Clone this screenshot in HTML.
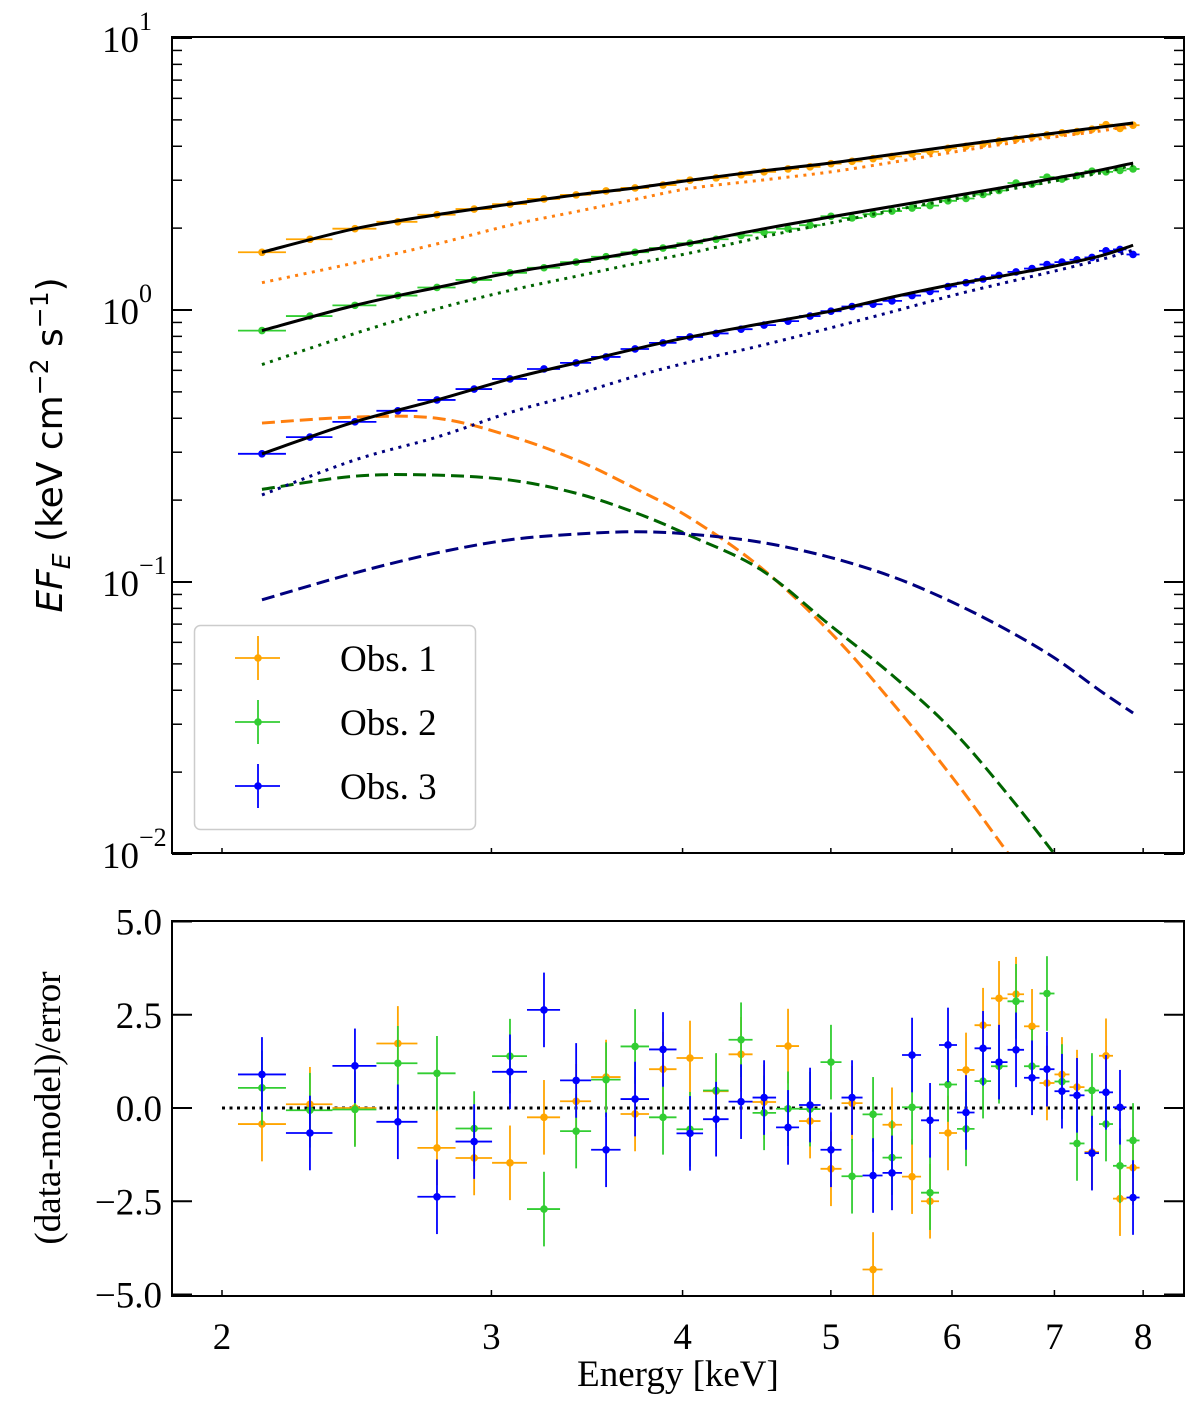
<!DOCTYPE html>
<html><head><meta charset="utf-8"><style>
body{margin:0;background:#fff;}
svg{display:block;}
.tk{font-family:"Liberation Serif",serif;font-size:37px;fill:#000;}
</style></head><body>
<svg id="chart" width="1200" height="1410" viewBox="0 0 1200 1410" xmlns="http://www.w3.org/2000/svg">
<defs>
<clipPath id="clipTop"><rect x="172" y="37" width="1012" height="816"/></clipPath>
<clipPath id="clipBot"><rect x="172" y="921" width="1012" height="375"/></clipPath>
</defs>
<g id="topPanel"></g>
<g id="botPanel"></g>
</svg>
<script>
// ---------- data ----------
const binEnergies=[2.124,2.283,2.443,2.606,2.764,2.923,3.085,3.247,3.408,3.565,3.724,3.884,4.045,4.207,4.368,4.522,4.688,4.846,5.001,5.162,5.328,5.482,5.650,5.805,5.964,6.128,6.287,6.440,6.607,6.768,6.922,7.080,7.242,7.407,7.565,7.726,7.879];
const flux1=[1.63,1.82,1.99,2.11,2.24,2.35,2.45,2.56,2.65,2.74,2.81,2.88,3.00,3.06,3.14,3.22,3.30,3.36,3.45,3.52,3.60,3.67,3.75,3.82,3.93,4.00,4.08,4.18,4.25,4.33,4.40,4.48,4.53,4.62,4.80,4.65,4.78];
const flux2=[0.84,0.95,1.04,1.13,1.21,1.29,1.37,1.43,1.50,1.57,1.63,1.69,1.76,1.82,1.88,1.93,1.99,2.05,2.21,2.18,2.25,2.31,2.37,2.42,2.52,2.57,2.66,2.75,2.93,2.90,3.08,3.03,3.12,3.24,3.22,3.26,3.30];
const flux3=[0.296,0.341,0.388,0.426,0.467,0.512,0.558,0.607,0.639,0.672,0.719,0.757,0.796,0.82,0.85,0.88,0.91,0.95,0.99,1.03,1.05,1.08,1.13,1.17,1.22,1.26,1.30,1.34,1.38,1.42,1.47,1.50,1.53,1.56,1.65,1.67,1.60];
const resid1=[-0.43,0.1,0.0,1.73,-1.07,-1.34,-1.47,-0.25,0.18,0.83,-0.16,1.04,1.34,0.45,1.44,0.16,1.66,-0.35,-1.63,0.13,-4.33,-0.45,-1.84,-2.5,-0.67,1.02,2.22,2.94,3.05,2.19,0.67,0.9,0.56,-1.18,1.4,-2.43,-1.6];
const resid2=[0.54,-0.06,-0.04,1.2,0.93,-0.55,1.39,-2.71,-0.62,0.76,1.65,-0.25,-0.57,0.47,1.83,-0.13,-0.02,-0.03,1.23,-1.83,-0.17,-1.33,0.02,-2.27,0.63,-0.56,0.72,1.12,2.86,1.12,3.07,0.71,-0.95,0.47,-0.43,-1.55,-0.87];
const resid3=[0.9,-0.67,1.13,-0.37,-2.38,-0.9,0.97,2.63,0.74,-1.12,0.24,1.57,-0.68,-0.3,0.17,0.28,-0.52,0.08,-1.12,0.28,-1.81,-1.74,1.42,-0.33,1.69,-0.12,1.6,1.23,1.56,0.81,1.04,0.45,0.34,-1.21,0.42,0.02,-2.4];
const modelEnergies=[2.124,2.443,2.764,3.085,3.408,3.724,4.045,4.5,5.0,5.5,6.0,6.5,7.0,7.5,7.88];
const total1=[1.63,1.99,2.24,2.45,2.65,2.81,3.00,3.24,3.47,3.74,4.00,4.25,4.47,4.70,4.87];
const total2=[0.84,1.04,1.21,1.37,1.50,1.63,1.76,1.98,2.20,2.41,2.62,2.83,3.05,3.27,3.47];
const total3=[0.296,0.388,0.467,0.558,0.639,0.719,0.796,0.89,0.99,1.12,1.24,1.34,1.45,1.58,1.73];
const pl1=[1.26,1.49,1.75,2.05,2.30,2.55,2.80,3.00,3.22,3.50,3.80,4.08,4.33,4.55,4.78];
const pl2=[0.63,0.82,1.01,1.18,1.33,1.48,1.62,1.85,2.09,2.33,2.55,2.76,2.98,3.19,3.41];
const pl3=[0.209,0.281,0.341,0.42,0.49,0.57,0.644,0.74,0.86,0.99,1.13,1.26,1.39,1.53,1.66];
const bb1=[0.384,0.404,0.40,0.344,0.281,0.221,0.172,0.113,0.065,0.0353,0.0192,0.0104,0.0058,0.0034,0.0022];
const bb2=[0.219,0.245,0.247,0.237,0.212,0.180,0.148,0.111,0.069,0.0448,0.0286,0.017,0.010,0.006,0.0041];
const bb3=[0.086,0.108,0.128,0.143,0.150,0.153,0.150,0.140,0.123,0.104,0.0844,0.0672,0.0526,0.0398,0.033];
const xTicks=[2,3,4,5,6,7,8];
const xTickLabels=["2","3","4","5","6","7","8"];
const yResTicks=[-5,-2.5,0,2.5,5];
const yResLabels=["\u22125.0","\u22122.5","0.0","2.5","5.0"];
const yLogDecades=[-2,-1,0,1];
const obsNames=["Obs. 1","Obs. 2","Obs. 3"];

// ---------- scales ----------
const NS="http://www.w3.org/2000/svg";
const X0=222,XPD=1530;
function xs(e){return X0+XPD*Math.log10(e/2);}
function ys(v){return 310-272*Math.log10(v);}
function yr(v){return 1108-37.3*v;}
function mk(tag,attrs,parent){const el=document.createElementNS(NS,tag);for(const k in attrs)el.setAttribute(k,attrs[k]);parent.appendChild(el);return el;}
const topG=document.getElementById('topPanel'),botG=document.getElementById('botPanel');

function smooth(pts){let d=`M${pts[0][0]},${pts[0][1]}`;for(let i=0;i<pts.length-1;i++){const p0=pts[i-1]||pts[i],p1=pts[i],p2=pts[i+1],p3=pts[i+2]||p2;const c1=[p1[0]+(p2[0]-p0[0])/6,p1[1]+(p2[1]-p0[1])/6],c2=[p2[0]-(p3[0]-p1[0])/6,p2[1]-(p3[1]-p1[1])/6];d+=`C${c1[0]},${c1[1]} ${c2[0]},${c2[1]} ${p2[0]},${p2[1]}`;}return d;}
function halfW(i){const n=binEnergies.length;const e=binEnergies[i];
  const l=i>0?Math.sqrt(binEnergies[i-1]*e):e*e/Math.sqrt(e*binEnergies[i+1]);
  const r=i<n-1?Math.sqrt(binEnergies[i+1]*e):e*e/Math.sqrt(e*binEnergies[i-1]);return [l,r];}

const dataCols=["#FFA500","#32CD32","#0000FF"];
const modCols=["#FF7F0E","#006400","#00007F"];
const fluxes=[flux1,flux2,flux3],resids=[resid1,resid2,resid3];
const totals=[total1,total2,total3],pls=[pl1,pl2,pl3],bbs=[bb1,bb2,bb3];

// ---------- top panel ----------
const gTopPlot=mk('g',{'clip-path':'url(#clipTop)'},topG);


for(let s=0;s<3;s++){
  const g=mk('g',{},gTopPlot);
  
  
  fluxes[s].forEach((v,i)=>{const [l,r]=halfW(i);const x=xs(binEnergies[i]),y=ys(v);
    const h=mk('line',{x1:xs(l),x2:xs(r),y1:y,y2:y,stroke:dataCols[s],'stroke-width':1.8},g);
    
    
    const c=mk('circle',{cx:x,cy:y,r:3.8,fill:dataCols[s]},g);
    
    
  });
}
for(let s=0;s<3;s++){
  const pd=mk('path',{d:smooth(modelEnergies.map((e,i)=>[xs(e),ys(pls[s][i])])),fill:'none',stroke:modCols[s],'stroke-width':3,'stroke-dasharray':'3,5.5'},gTopPlot);
  
  
  const bd=mk('path',{d:smooth(modelEnergies.map((e,i)=>[xs(e),ys(bbs[s][i])])),fill:'none',stroke:modCols[s],'stroke-width':3,'stroke-dasharray':'13,6'},gTopPlot);
  
  
  const td=mk('path',{d:smooth(modelEnergies.map((e,i)=>[xs(e),ys(totals[s][i])])),fill:'none',stroke:'#000','stroke-width':3},gTopPlot);
  
  
}
const frameTop=mk('rect',{x:172,y:37,width:1012,height:816,fill:'none',stroke:'#000','stroke-width':2},topG);


yLogDecades.forEach(d=>{
  const y=ys(Math.pow(10,d));
  mk('line',{x1:172,x2:192,y1:y,y2:y,stroke:'#000','stroke-width':2},topG);
  mk('line',{x1:1164,x2:1184,y1:y,y2:y,stroke:'#000','stroke-width':2},topG);
  const t=mk('text',{x:102,y:y+14,class:'tk'},topG);
  
  
  t.textContent='10';
  const sp=mk('tspan',{dy:-22,'font-size':'26px'},t);sp.textContent=d<0?'\u2212'+(-d):String(d);
  if(d<1)for(let m=2;m<10;m++){const ym=ys(m*Math.pow(10,d));
    mk('line',{x1:172,x2:182,y1:ym,y2:ym,stroke:'#000','stroke-width':1.5},topG);
    mk('line',{x1:1174,x2:1184,y1:ym,y2:ym,stroke:'#000','stroke-width':1.5},topG);}
});
xTicks.forEach(e=>{const x=xs(e);mk('line',{x1:x,x2:x,y1:853,y2:848,stroke:'#000','stroke-width':1.5},topG);});
const yl=mk('text',{x:0,y:0,transform:'translate(62,445) rotate(-90)','text-anchor':'middle','font-family':'"DejaVu Sans",sans-serif','font-size':'36px'},topG);


yl.innerHTML='<tspan font-style="italic">EF</tspan><tspan font-style="italic" font-size="25px" dy="8">E</tspan><tspan dy="-8"> (keV cm</tspan><tspan font-size="25px" dy="-14">\u22122</tspan><tspan dy="14"> s</tspan><tspan font-size="25px" dy="-14">\u22121</tspan><tspan dy="14">)</tspan>';

// legend
const lg=mk('g',{},topG);


mk('rect',{x:194.5,y:625.5,width:281,height:204,rx:6,fill:'#fff','fill-opacity':0.85,stroke:'#ccc','stroke-width':1.5},lg);
obsNames.forEach((n,i)=>{const y=658+64*i;const e=mk('g',{},lg);
  
  
  mk('line',{x1:235,x2:280,y1:y,y2:y,stroke:dataCols[i],'stroke-width':1.8},e);
  mk('line',{x1:258,x2:258,y1:y-22,y2:y+22,stroke:dataCols[i],'stroke-width':1.8},e);
  mk('circle',{cx:258,cy:y,r:3.8,fill:dataCols[i]},e);
  const t=mk('text',{x:340,y:y+13,class:'tk'},e);t.textContent=n;});

// ---------- bottom panel ----------
const gBot=mk('g',{'clip-path':'url(#clipBot)'},botG);


const zl=mk('line',{x1:xs(2),x2:xs(8),y1:yr(0),y2:yr(0),stroke:'#000','stroke-width':3,'stroke-dasharray':'3,4.5'},gBot);


for(let s=0;s<3;s++){
  const g=mk('g',{},gBot);
  
  
  resids[s].forEach((v,i)=>{const [l,r]=halfW(i);const x=xs(binEnergies[i]),y=yr(v);
    mk('line',{x1:xs(l),x2:xs(r),y1:y,y2:y,stroke:dataCols[s],'stroke-width':1.8},g);
    mk('line',{x1:x,x2:x,y1:yr(v-1),y2:yr(v+1),stroke:dataCols[s],'stroke-width':1.8},g);
    const c=mk('circle',{cx:x,cy:y,r:3.8,fill:dataCols[s]},g);
    
    });
}
const frameBot=mk('rect',{x:172,y:921,width:1012,height:375,fill:'none',stroke:'#000','stroke-width':2},botG);


yResTicks.forEach((v,i)=>{const y=yr(v);
  mk('line',{x1:172,x2:192,y1:y,y2:y,stroke:'#000','stroke-width':2},botG);
  mk('line',{x1:1164,x2:1184,y1:y,y2:y,stroke:'#000','stroke-width':2},botG);
  const t=mk('text',{x:162,y:y+13,'text-anchor':'end',class:'tk'},botG);
  
  
  t.textContent=yResLabels[i];});
xTicks.forEach((e,i)=>{const x=xs(e);
  mk('line',{x1:x,x2:x,y1:1296,y2:1290,stroke:'#000','stroke-width':1.5},botG);
  const t=mk('text',{x:x,y:1349,'text-anchor':'middle',class:'tk'},botG);
  
  
  t.textContent=xTickLabels[i];});
const xl=mk('text',{x:678,y:1386,'text-anchor':'middle',class:'tk'},botG);


xl.textContent='Energy [keV]';
const rl=mk('text',{x:0,y:0,transform:'translate(60,1108) rotate(-90)','text-anchor':'middle',class:'tk','font-size':'36px'},botG);


rl.textContent='(data-model)/error';
</script>
</body></html>
